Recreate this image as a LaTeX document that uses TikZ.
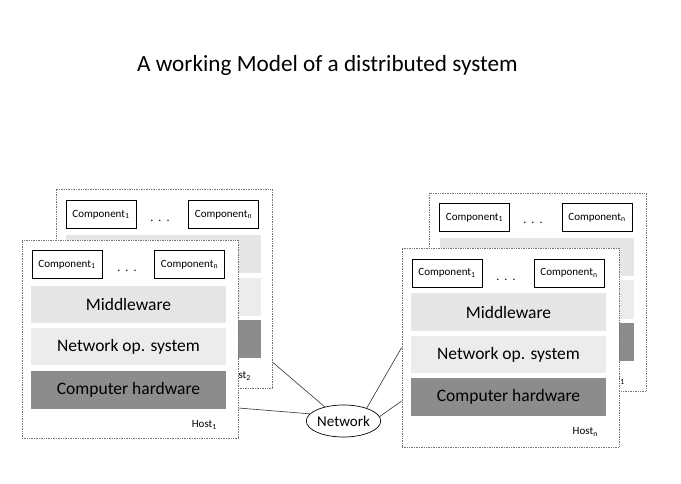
\documentclass[tikz,border=0pt]{standalone}
\usepackage{fontspec}
\setmainfont{Carlito}
\usetikzlibrary{shapes.geometric}
\definecolor{mwgray}{HTML}{E6E6E6}
\definecolor{nosgray}{HTML}{ECECEC}
\definecolor{hwgray}{HTML}{8C8C8C}
\newcommand{\hostdots}{.\hspace{5pt}.\hspace{5pt}.}
\tikzset{
  hostframe/.style={draw=black!55, densely dotted, line width=0.7pt, fill=white, rectangle, inner sep=0pt},
  compbox/.style={draw=black, line width=0.6pt, fill=white, rectangle, inner sep=0pt, minimum width=70pt, minimum height=28pt, font=\fontsize{11}{13}\selectfont},
  layerbox/.style={rectangle, inner sep=0pt, minimum width=195pt, draw=none, font=\fontsize{17.5}{20}\selectfont},
  mwlayer/.style={layerbox, fill=mwgray},
  noslayer/.style={layerbox, fill=nosgray},
  hwlayer/.style={layerbox, fill=hwgray},
  hostlabel/.style={anchor=east, inner sep=0pt, font=\fontsize{11}{13}\selectfont},
  dotslabel/.style={inner sep=0pt, font=\fontsize{12}{14}\selectfont},
  netlink/.style={draw=black!80, line width=0.6pt}
}
\begin{document}
\begin{tikzpicture}[x=1pt,y=-1pt]
\useasboundingbox (0,0) rectangle (681,484);
\fill[white] (0,0) rectangle (681,484);

% title
\node[inner sep=0pt, font=\fontsize{23.2}{27}\selectfont] (title) at (327.5,65) {A working Model of a distributed system};

% ---------- back left host (Host 2)
\node[hostframe, minimum width=216pt, minimum height=199pt] (B2) at (164,288.5) {};
\node[compbox] (B2c1) at (101,214.5) {Component\textsubscript{1}};
\node[compbox] (B2cn) at (223.5,214.5) {Component\textsubscript{n}};
\node[dotslabel] (B2dots) at (160,221) {\hostdots};
\node[mwlayer, minimum height=38pt] (B2mw) at (163.5,254) {};
\node[noslayer, minimum height=38pt] (B2nos) at (163.5,297) {};
\node[hwlayer, minimum height=38pt] (B2hw) at (163.5,339) {};
\node[hostlabel] (B2lab) at (251,376) {Host\textsubscript{2}};

% ---------- front left host (Host 1)
\node[hostframe, minimum width=216pt, minimum height=198pt] (H1) at (130,339) {};
\node[compbox] (H1c1) at (67,264.5) {Component\textsubscript{1}};
\node[compbox] (H1cn) at (189.5,264.5) {Component\textsubscript{n}};
\node[dotslabel] (H1dots) at (127,271) {\hostdots};
\node[mwlayer, minimum height=37pt] (H1mw) at (128.5,304.5) {Middleware};
\node[noslayer, minimum height=37pt] (H1nos) at (128.5,346.5) {Network op. system};
\node[hwlayer, minimum height=38pt] (H1hw) at (128.5,390) {Computer hardware};
\node[hostlabel] (H1lab) at (217,425) {Host\textsubscript{1}};

% ---------- back right host
\node[hostframe, minimum width=217pt, minimum height=198pt] (B3) at (537.5,292) {};
\node[compbox] (B3c1) at (474.5,217.5) {Component\textsubscript{1}};
\node[compbox] (B3cn) at (597,217.5) {Component\textsubscript{n}};
\node[dotslabel] (B3dots) at (533,223) {\hostdots};
\node[mwlayer, minimum height=38pt, minimum width=194pt] (B3mw) at (537,257) {};
\node[noslayer, minimum height=38pt, minimum width=194pt] (B3nos) at (537,299.5) {};
\node[hwlayer, minimum height=38pt, minimum width=194pt] (B3hw) at (537,342) {};
\node[hostlabel] (B3lab) at (625,380) {Host\textsubscript{1}};

% ---------- front right host (Host n)
\node[hostframe, minimum width=217pt, minimum height=199pt] (Hn) at (510.5,347.5) {};
\node[compbox] (Hnc1) at (447,273) {Component\textsubscript{1}};
\node[compbox] (Hncn) at (569,273) {Component\textsubscript{n}};
\node[dotslabel] (Hndots) at (506,280) {\hostdots};
\node[mwlayer, minimum height=38pt] (Hnmw) at (508.5,312) {Middleware};
\node[noslayer, minimum height=37pt] (Hnnos) at (508.5,354.5) {Network op. system};
\node[hwlayer, minimum height=38pt] (Hnhw) at (508.5,397) {Computer hardware};
\node[hostlabel] (Hnlab) at (598,432) {Host\textsubscript{n}};

% ---------- network
\node[ellipse, draw=black, line width=0.7pt, fill=white, minimum width=69pt, minimum height=32pt, inner sep=0pt, font=\fontsize{15}{18}\selectfont] (net) at (343.5,421) {Network};

\draw[netlink] ([yshift=-73.5pt]B2.east) -- (net.143);
\draw[netlink] ([yshift=-69pt]H1.east) -- (net.168);
\draw[netlink] (Hn.west) -- (net.29);
\draw[netlink] ([yshift=-53.5pt]Hn.west) -- (net.7);
\end{tikzpicture}
\end{document}
